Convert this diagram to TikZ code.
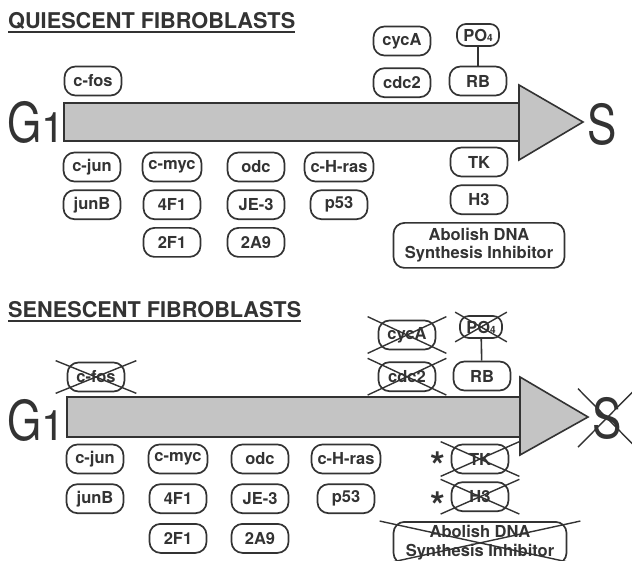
\documentclass[tikz,border=0pt]{standalone}
\usepackage{fontspec}
\setmainfont{TeX Gyre Heros}
\usetikzlibrary{positioning}
\definecolor{ink}{gray}{0.2}
\definecolor{stipple}{gray}{0.77}
\begin{document}
\begin{tikzpicture}[x=1pt, y=1pt, node distance={7pt},
    gene/.style = {draw=ink, text=ink, line width=1.7pt, rounded corners=11pt, minimum width=57pt, minimum height=29pt, inner ysep=0pt, inner xsep=6pt, font=\fontsize{16.5}{18.5}\selectfont\bfseries},
    small/.style = {gene, minimum width=42pt, minimum height=22pt, inner xsep=3pt, rounded corners=9pt},
    title/.style = {anchor=base west, inner sep=0pt, text=ink, font=\fontsize{21.7}{24}\selectfont\bfseries},
    phase/.style = {anchor=base west, inner sep=0pt, text=ink, font=\fontsize{55}{55}\selectfont},
    bar/.style = {draw=ink, line width=1.6pt, fill=stipple, line join=miter},
    strike/.style = {draw=ink, line width=1.4pt},
    starmark/.style = {text=ink, inner sep=0pt, anchor=north, font=\fontsize{38}{38}\selectfont\bfseries}]
\useasboundingbox[fill=white] (0,0) rectangle (632,-561);

% quiescent
\node[title] (t1) at (8,-29) {QUIESCENT FIBROBLASTS};
\draw[ink, line width=1.8pt] ([yshift=-3pt]t1.base west) -- ([yshift=-3pt]t1.base east);
\draw[bar] (64,-103) rectangle (519,-141);
\draw[bar] (519,-85) -- (583,-122) -- (519,-160) -- cycle;
\node[phase] (g1) at (7,-143) {\scalebox{0.8}[1]{G}{\fontsize{42}{42}\selectfont 1}};
\node[phase] (s1) at (587,-145) {\scalebox{0.8}[1]{S}};
\node[gene] (cfos) at (93,-81) {c-fos};
\node[gene] (cyca) at (402,-41) {cycA};
\node[gene] (cdc) [below=11pt of cyca] {cdc2};
\node[small] (po) at (478,-35) {PO{\fontsize{10}{10}\selectfont 4}};
\node[gene] (rb) at (478,-81) {RB};
\draw[ink, line width=1.6pt] (po) -- (rb);
\node[gene] (cjun) at (92,-167) {c-jun};
\node[gene] (junb) [below=of cjun] {junB};
\node[gene] (cmyc) at (172,-167) {c-myc};
\node[gene] (4f1) [below=of cmyc] {4F1};
\node[gene] (2f1) [below=of 4f1] {2F1};
\node[gene] (odc) at (256,-167) {odc};
\node[gene] (je3) [below=of odc] {JE-3};
\node[gene] (2a9) [below=of je3] {2A9};
\node[gene] (ras) at (339,-167) {c-H-ras};
\node[gene] (p53) [below=of ras] {p53};
\node[gene] (tk) at (479,-162) {TK};
\node[gene] (h3) [below=of tk] {H3};
\node[gene, minimum width=171pt, minimum height=45pt, align=center] (dna) [below=of h3] {Abolish DNA\\Synthesis Inhibitor};

% senescent
\node[title] (t2) at (8,-318) {SENESCENT FIBROBLASTS};
\draw[ink, line width=1.8pt] ([yshift=-3pt]t2.base west) -- ([yshift=-3pt]t2.base east);
\draw[bar] (67,-397) rectangle (520,-437);
\draw[bar] (520,-377) -- (588,-417) -- (520,-455) -- cycle;
\node[phase] (g2) at (7,-440) {\scalebox{0.8}[1]{G}{\fontsize{42}{42}\selectfont 1}};
\node[phase] (s2) at (592,-438) {\scalebox{0.8}[1]{S}};
\node[gene] (cfos2) at (96,-377) {c-fos};
\node[gene] (cyca2) at (407,-335) {cycA};
\node[gene] (cdc2) [below=11pt of cyca2] {cdc2};
\node[small] (po2) at (481,-327) {PO{\fontsize{10}{10}\selectfont 4}};
\node[gene] (rb2) at (482,-376) {RB};
\draw[ink, line width=1.6pt] (po2) -- (rb2);
\node[gene] (cjun2) at (95,-459) {c-jun};
\node[gene] (junb2) [below=9pt of cjun2] {junB};
\node[gene] (cmyc2) at (178,-459) {c-myc};
\node[gene] (4f12) [below=9pt of cmyc2] {4F1};
\node[gene] (2f12) [below=9pt of 4f12] {2F1};
\node[gene] (odc2) at (260,-459) {odc};
\node[gene] (je32) [below=9pt of odc2] {JE-3};
\node[gene] (2a92) [below=9pt of je32] {2A9};
\node[gene] (ras2) at (346,-459) {c-H-ras};
\node[gene] (p532) [below=9pt of ras2] {p53};
\node[gene] (tk2) at (480,-459) {TK};
\node[gene] (h32) [below=of tk2] {H3};
\node[gene, minimum width=173pt, minimum height=42pt, align=center] (dna2) [below=9pt of h32] {Abolish DNA\\Synthesis Inhibitor};
\node[starmark] (star1) at (438,-452) {*};
\node[starmark] (star2) at (438,-492) {*};

% crossed out
\foreach \n/\dx/\dy in {cfos2/11/1, cyca2/10/3, cdc2/10/3, po2/4/3, tk2/10/2, h32/10/2, dna2/13/0, s2/14/8} {
    \draw[strike] ([xshift=-\dx pt, yshift=\dy pt]\n.north west) -- ([xshift=\dx pt, yshift=-\dy pt]\n.south east);
    \draw[strike] ([xshift=-\dx pt, yshift=-\dy pt]\n.south west) -- ([xshift=\dx pt, yshift=\dy pt]\n.north east);
}
\end{tikzpicture}
\end{document}
